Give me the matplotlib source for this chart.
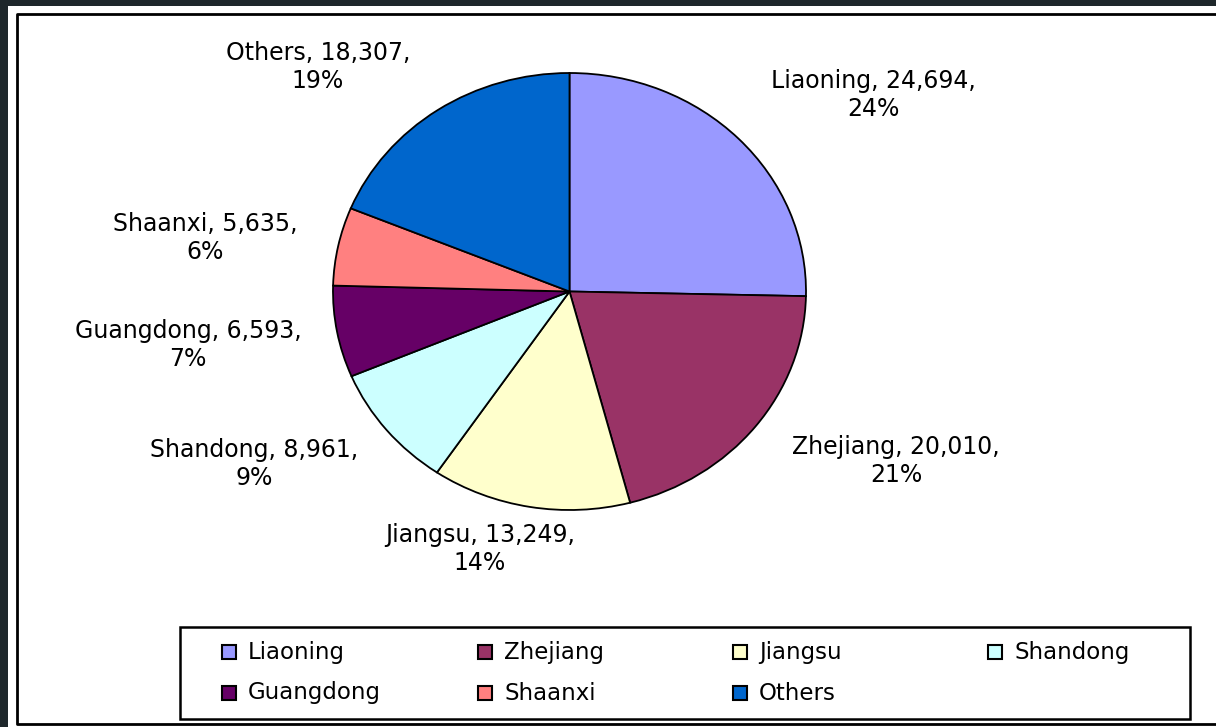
import matplotlib
matplotlib.use("Agg")
import matplotlib.pyplot as plt
from matplotlib.patches import Rectangle
from matplotlib.lines import Line2D

provincias = ["Liaoning", "Zhejiang", "Jiangsu", "Shandong", "Guangdong", "Shaanxi", "Others"]
valores = [24694, 20010, 13249, 8961, 6593, 5635, 18307]
porcentajes = ["24%", "21%", "14%", "9%", "7%", "6%", "19%"]
colores = ["#9999FF", "#993366", "#FFFFCC", "#CCFFFF", "#660066", "#FF8080", "#0066CC"]

# label centres in pixels (x, y from top)
pos_etiquetas = [(873, 95), (896, 461), (480, 549), (254, 464), (188, 345), (205, 238), (318, 67)]

W, H = 1216, 727
fig = plt.figure(figsize=(W / 100, H / 100), dpi=100, facecolor="#1e272b")
ax = fig.add_axes([0, 0, 1, 1])
ax.set_xlim(0, W)
ax.set_ylim(0, H)
ax.axis("off")

# white panel and frame
ax.add_patch(Rectangle((8, 0), W - 8, H - 6, facecolor="white", edgecolor="none", zorder=0))
ax.add_line(Line2D([W, 17, 17, W], [H - 14, H - 14, H - 724, H - 724], color="black", lw=2, zorder=1))

# pie is slightly wider than tall in the original
cx, cy, rx, ry = 569.5, 291.5, 236.5, 218.5
ax_pie = fig.add_axes([(cx - rx) / W, (H - cy - ry) / H, 2 * rx / W, 2 * ry / H])
ax_pie.pie(valores, colors=colores, startangle=90, counterclock=False,
           wedgeprops=dict(edgecolor="black", linewidth=1.3))
ax_pie.set_aspect("auto")
ax_pie.set_xlim(-1.0, 1.0)
ax_pie.set_ylim(-1.0, 1.0)
ax_pie.axis("off")

for nombre, v, p, (x, y) in zip(provincias, valores, porcentajes, pos_etiquetas):
    ax.text(x, H - y, f"{nombre}, {v:,},\n{p}", ha="center", va="center",
            fontsize=17, family="DejaVu Sans", linespacing=1.25, color="black")

# legend box
ax.add_patch(Rectangle((180, H - 719), 1010, 92, facecolor="white", edgecolor="black", lw=1.8, zorder=2))
col_x = [222, 478, 733, 988]
fila_y = [652, 693]
for i, (nombre, c) in enumerate(zip(provincias, colores)):
    x = col_x[i % 4]
    y = fila_y[i // 4]
    ax.add_patch(Rectangle((x, H - y - 7), 14, 14, facecolor=c, edgecolor="black", lw=1.5, zorder=3))
    ax.text(x + 26, H - y, nombre, ha="left", va="center", fontsize=16.5, family="DejaVu Sans", zorder=3)

fig.savefig("out.png", dpi=100, facecolor=fig.get_facecolor())
